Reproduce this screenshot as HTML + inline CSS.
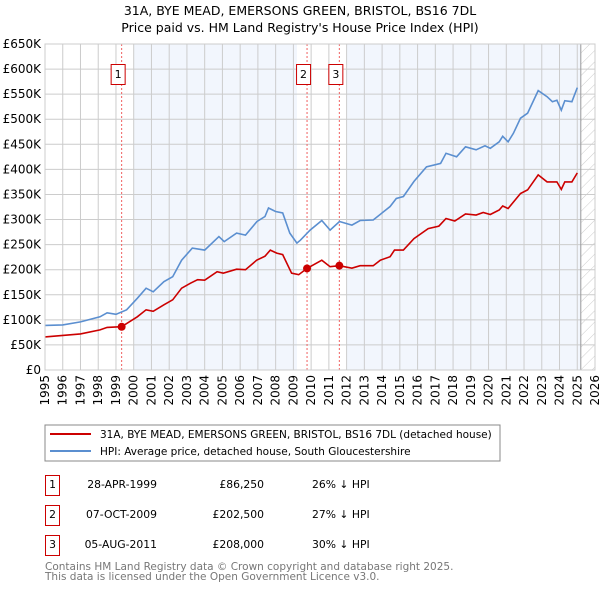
<!DOCTYPE html>
<html><head><meta charset="utf-8"><style>
body{margin:0;background:#fff;font-family:"DejaVu Sans","Liberation Sans",sans-serif;}
svg text{font-family:"DejaVu Sans","Liberation Sans",sans-serif;}
</style></head><body>
<svg id="c" width="600" height="590" xmlns="http://www.w3.org/2000/svg">
<defs><pattern id="hatch" width="8" height="8" patternUnits="userSpaceOnUse" patternTransform="rotate(45)"><line x1="0" y1="0" x2="0" y2="8" stroke="#ccc" stroke-width="1"/></pattern></defs>
<text x="300" y="15" text-anchor="middle" font-size="12.5">31A, BYE MEAD, EMERSONS GREEN, BRISTOL, BS16 7DL</text>
<text x="300" y="32" text-anchor="middle" font-size="12.5">Price paid vs. HM Land Registry's House Price Index (HPI)</text>
<g id="plot"></g>
<g>
<rect x="45" y="425" width="455" height="36" fill="#fff" stroke="#888"/>
<line x1="50" y1="434" x2="91" y2="434" stroke="#cc0000" stroke-width="2"/>
<text x="100" y="438" font-size="10.5">31A, BYE MEAD, EMERSONS GREEN, BRISTOL, BS16 7DL (detached house)</text>
<line x1="50" y1="451" x2="91" y2="451" stroke="#5b8fd0" stroke-width="2"/>
<text x="100" y="455" font-size="10.5">HPI: Average price, detached house, South Gloucestershire</text>
</g>
<g font-size="10.8">
<rect x="45.5" y="475.5" width="14" height="20" fill="none" stroke="#cc0000"/>
<text x="52.5" y="488" text-anchor="middle">1</text>
<text x="157" y="488" text-anchor="end">28-APR-1999</text>
<text x="264" y="488" text-anchor="end">£86,250</text>
<text x="312" y="488">26% ↓ HPI</text>
<rect x="45.5" y="505.5" width="14" height="20" fill="none" stroke="#cc0000"/>
<text x="52.5" y="518" text-anchor="middle">2</text>
<text x="157" y="518" text-anchor="end">07-OCT-2009</text>
<text x="264" y="518" text-anchor="end">£202,500</text>
<text x="312" y="518">27% ↓ HPI</text>
<rect x="45.5" y="535.5" width="14" height="20" fill="none" stroke="#cc0000"/>
<text x="52.5" y="548" text-anchor="middle">3</text>
<text x="157" y="548" text-anchor="end">05-AUG-2011</text>
<text x="264" y="548" text-anchor="end">£208,000</text>
<text x="312" y="548">30% ↓ HPI</text>
</g>
<text x="45" y="570" font-size="10.5" fill="#777">Contains HM Land Registry data © Crown copyright and database right 2025.</text>
<text x="45" y="580" font-size="10.5" fill="#777">This data is licensed under the Open Government Licence v3.0.</text>
</svg>
<script>
const hpiYears=[1995.0,1996.0,1997.0,1998.1,1998.5,1999.0,1999.6,2000.2,2000.7,2001.1,2001.7,2002.2,2002.7,2003.3,2004.0,2004.8,2005.1,2005.8,2006.3,2006.95,2007.4,2007.6,2008.0,2008.4,2008.8,2009.2,2009.4,2009.94,2010.6,2011.07,2011.6,2012.3,2012.76,2013.5,2014.45,2014.8,2015.2,2015.8,2016.5,2017.3,2017.6,2018.2,2018.7,2019.3,2019.8,2020.1,2020.6,2020.8,2021.1,2021.4,2021.8,2022.2,2022.8,2023.3,2023.6,2023.85,2024.1,2024.3,2024.7,2025.0];
const hpiValues=[89,90,96,106,114,111,120,143,163,156,176,186,219,243,239,266,256,273,269,296,306,323,316,313,273,253,259,279,298,279,296,289,298,299,326,342,346,376,405,412,432,425,445,439,447,442,455,466,455,472,502,512,557,545,535,538,518,537,535,563];
const priceYears=[1995.0,1997.0,1998.1,1998.5,1999.32,2000.2,2000.7,2001.1,2001.7,2002.2,2002.7,2003.2,2003.6,2004.0,2004.7,2005.05,2005.8,2006.3,2006.93,2007.4,2007.7,2008.06,2008.4,2008.9,2009.3,2009.77,2010.6,2011.07,2011.59,2012.3,2012.76,2013.5,2013.9,2014.45,2014.7,2015.2,2015.8,2016.6,2017.2,2017.6,2018.1,2018.7,2019.3,2019.7,2020.1,2020.6,2020.8,2021.1,2021.8,2022.2,2022.8,2023.3,2023.85,2024.1,2024.3,2024.7,2025.0];
const priceValues=[66,72,80,85,86.25,106,120,117,130,140,163,173,180,179,196,193,201,200,219,227,239,233,230,193,190,202.5,219,206,208,203,208,208,219,226,239,239,262,282,287,302,297,311,309,314,310,319,327,322,352,359,389,375,375,360,375,375,393];
const saleYears=[1999.32,2009.77,2011.59];
const saleValues=[86.25,202.5,208];
const saleLabels=["1","2","3"];
const yTicks=[0,50,100,150,200,250,300,350,400,450,500,550,600,650];
const xTicks=[1995,1996,1997,1998,1999,2000,2001,2002,2003,2004,2005,2006,2007,2008,2009,2010,2011,2012,2013,2014,2015,2016,2017,2018,2019,2020,2021,2022,2023,2024,2025,2026];

const X0=45,X1=595,Y0=370,Y1=44;
const xs=y=>X0+(y-1995)/(2026-1995)*(X1-X0);
const ys=v=>Y0-v/650*(Y0-Y1);
const NS="http://www.w3.org/2000/svg";
const g=document.getElementById('plot');
function mk(t,a){const e=document.createElementNS(NS,t);for(const k in a)e.setAttribute(k,a[k]);g.appendChild(e);return e;}
let e;
e=mk('rect',{x:X0,y:Y1,width:X1-X0,height:Y0-Y1,fill:'#fff'});


e=mk('rect',{x:xs(2000),y:Y1,width:xs(2009.2)-xs(2000),height:Y0-Y1,fill:'#f2f6fd'});


e=mk('rect',{x:xs(2012),y:Y1,width:xs(2025.2)-xs(2012),height:Y0-Y1,fill:'#f2f6fd'});


e=mk('rect',{x:xs(2025.2),y:Y1,width:X1-xs(2025.2),height:Y0-Y1,fill:'url(#hatch)'});


yTicks.forEach(v=>{
 e=mk('line',{x1:X0,x2:X1,y1:ys(v),y2:ys(v),stroke:'#ccc'});
 
 
 e=mk('text',{x:X0-4,y:ys(v)+4,'text-anchor':'end','font-size':'12'});
 e.textContent=v===0?'£0':'£'+v+'K';
 
 
});
xTicks.forEach(y=>{
 e=mk('line',{x1:xs(y),x2:xs(y),y1:Y1,y2:Y0,stroke:'#ccc'});
 
 
 e=mk('text',{x:0,y:0,'font-size':'12','text-anchor':'end',transform:`translate(${xs(y)+4},${Y0+5}) rotate(-90)`});
 e.textContent=y;
 
 
});
e=mk('line',{x1:xs(2025.2),x2:xs(2025.2),y1:Y1,y2:Y0,stroke:'#999'});


saleYears.forEach((y,i)=>{
 e=mk('line',{x1:xs(y),x2:xs(y),y1:Y1,y2:Y0,stroke:'#f06060','stroke-dasharray':'2,2'});
 
 
 e=mk('rect',{x:xs(y)-10.5,y:64.5,width:14,height:20,fill:'#fff',stroke:'#cc0000'});
 
 
 e=mk('text',{x:xs(y)-3.5,y:78,'text-anchor':'middle','font-size':'11'});
 e.textContent=saleLabels[i];
 
 
});
e=mk('path',{d:hpiYears.map((y,i)=>(i?'L':'M')+xs(y).toFixed(1)+','+ys(hpiValues[i]).toFixed(1)).join(''),fill:'none',stroke:'#5b8fd0','stroke-width':1.6});


e=mk('path',{d:priceYears.map((y,i)=>(i?'L':'M')+xs(y).toFixed(1)+','+ys(priceValues[i]).toFixed(1)).join(''),fill:'none',stroke:'#cc0000','stroke-width':1.6});


saleYears.forEach((y,i)=>{
 e=mk('circle',{cx:xs(y),cy:ys(saleValues[i]),r:4,fill:'#cc0000'});
 
 
});
e=mk('rect',{x:X0,y:Y1,width:X1-X0,height:Y0-Y1,fill:'none',stroke:'#ccc'});


</script>
</body></html>
